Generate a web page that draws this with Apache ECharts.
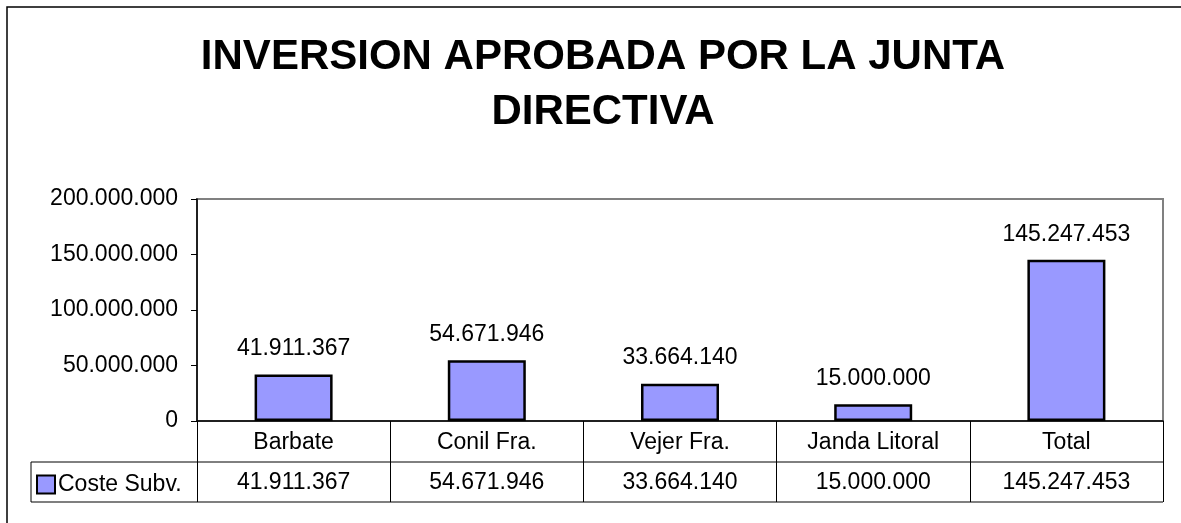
<!DOCTYPE html>
<html>
<head>
<meta charset="utf-8">
<script src="https://cdn.jsdelivr.net/npm/echarts@6/dist/echarts.min.js"></script>
<style>
  html, body { margin: 0; padding: 0; background: #fff; }
  #chart { width: 1181px; height: 523px; }
</style>
</head>
<body>
<div id="chart"></div>
<script>
const titleLines = ['INVERSION APROBADA POR LA JUNTA', 'DIRECTIVA'];
const categories = ['Barbate', 'Conil Fra.', 'Vejer Fra.', 'Janda Litoral', 'Total'];
const seriesName = 'Coste Subv.';
const costeSubv = [41911367, 54671946, 33664140, 15000000, 145247453];
const yTicks = { min: 0, max: 200000000, interval: 50000000 };

// 41911367 -> 41.911.367
function fmt(v) {
    return String(Math.round(v)).replace(/\B(?=(\d{3})+(?!\d))/g, '.');
}

const FONT = 'Liberation Sans, Arial, sans-serif';
const FS = 23;
const chart = echarts.init(document.getElementById('chart'));

const option = {
    animation: false,
    backgroundColor: '#fff',
    title: {
        text: titleLines.join('\n'),
        left: 598,
        textAlign: 'center',
        top: 25,
        textStyle: {
            fontFamily: FONT,
            fontWeight: 'bold',
            fontSize: 42,
            lineHeight: 55,
            color: '#000',
        },
    },
    legend: {
        left: 36,
        top: 473,
        padding: 0,
        icon: 'rect',
        itemWidth: 18,
        itemHeight: 18,
        textStyle: { fontFamily: FONT, fontSize: FS, color: '#000', padding: [0, 0, 0, -2] },
        data: [seriesName],
    },
    grid: {
        left: 197,
        right: 18,
        top: 199,
        bottom: 102,
        show: true,
        borderColor: '#808080',
        borderWidth: 2,
        backgroundColor: 'transparent',
    },
    xAxis: [
        {
            type: 'category',
            data: categories,
            axisLine: { lineStyle: { color: '#000', width: 1.5 } },
            axisTick: { show: true, length: 81, lineStyle: { color: '#000', width: 1 } },
            axisLabel: {
                interval: 0,
                margin: 10,
                fontFamily: FONT,
                fontSize: FS,
                color: '#000',
            },
            splitLine: { show: false },
        },
        {
            type: 'category',
            position: 'bottom',
            offset: 41,
            data: costeSubv.map(fmt),
            axisLine: { show: false },
            axisTick: { show: false },
            axisLabel: {
                interval: 0,
                margin: 9,
                fontFamily: FONT,
                fontSize: FS,
                color: '#000',
            },
        },
    ],
    yAxis: {
        type: 'value',
        min: yTicks.min,
        max: yTicks.max,
        interval: yTicks.interval,
        axisLine: { show: true, lineStyle: { color: '#000', width: 1.5 } },
        axisTick: { show: true, length: 6, lineStyle: { color: '#000' } },
        axisLabel: {
            margin: 19,
            fontFamily: FONT,
            fontSize: FS,
            color: '#000',
            formatter: fmt,
        },
        splitLine: { show: false },
    },
    series: [
        {
            name: seriesName,
            type: 'bar',
            xAxisIndex: 0,
            data: costeSubv,
            barWidth: 78,
            itemStyle: { color: '#9999FF', borderColor: '#000', borderWidth: 2.5 },
            label: {
                show: true,
                position: 'top',
                distance: 14,
                fontFamily: FONT,
                fontSize: FS,
                color: '#000',
                formatter: (p) => fmt(p.value),
            },
        },
    ],
    graphic: [
        // outer chart frame (only top and left visible in the crop)
        { type: 'rect', shape: { x: 7, y: 7, width: 1300, height: 600 },
          style: { fill: null, stroke: '#000', lineWidth: 1.5 }, silent: true },
        // data table lines
        { type: 'line', shape: { x1: 31, y1: 462, x2: 1163, y2: 462 },
          style: { stroke: '#000', lineWidth: 1 }, silent: true },
        { type: 'line', shape: { x1: 31, y1: 502, x2: 1163, y2: 502 },
          style: { stroke: '#555', lineWidth: 1.5 }, silent: true },
        { type: 'line', shape: { x1: 31, y1: 462, x2: 31, y2: 502 },
          style: { stroke: '#000', lineWidth: 1 }, silent: true },
    ],
};

chart.setOption(option);
</script>
</body>
</html>
